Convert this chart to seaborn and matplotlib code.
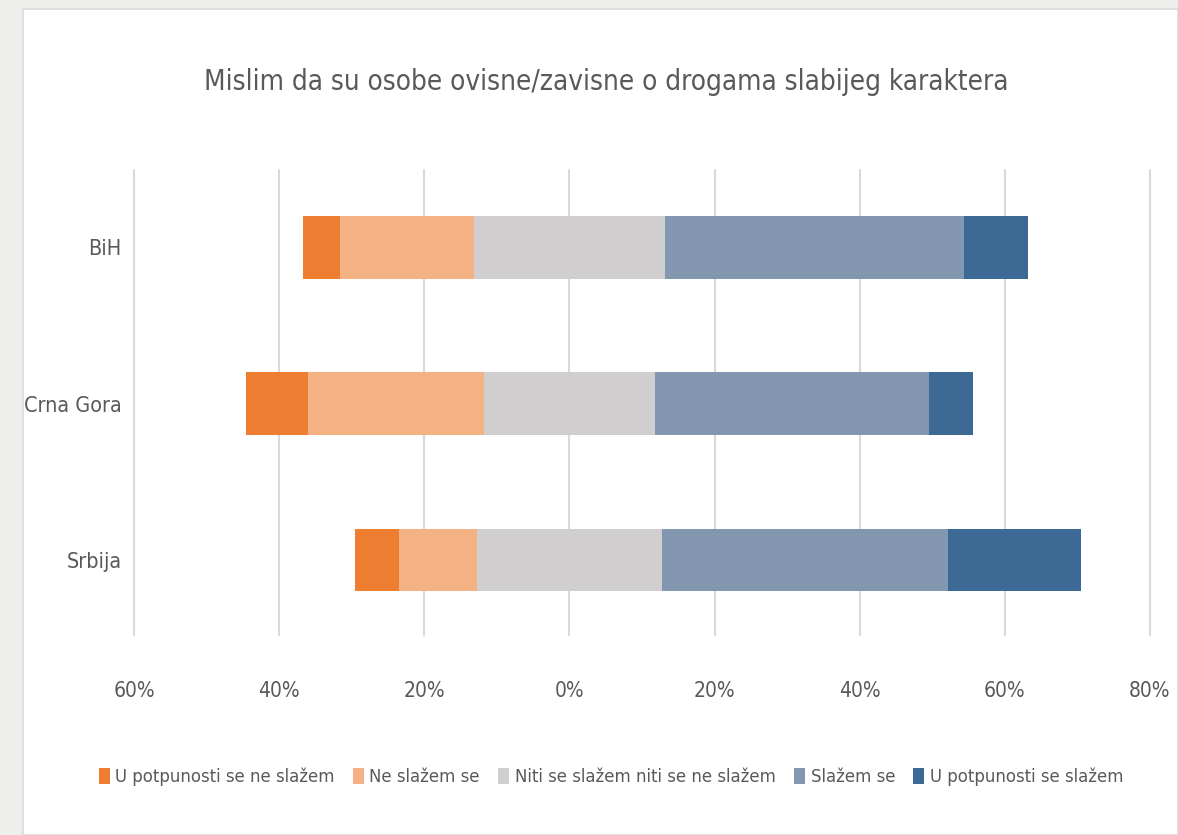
import matplotlib
matplotlib.use("Agg")
import numpy as np
import pandas as pd
import matplotlib.pyplot as plt
import seaborn as sns
from matplotlib.patches import Patch

# data (percent)
countries = ["BiH", "Crna Gora", "Srbija"]
categories = ["U potpunosti se ne slažem", "Ne slažem se",
              "Niti se slažem niti se ne slažem", "Slažem se",
              "U potpunosti se slažem"]
strongly_disagree = [5.2, 8.6, 6.0]
disagree = [18.4, 24.2, 10.8]
neutral = [26.3, 23.6, 25.4]
agree = [41.2, 37.8, 39.5]
strongly_agree = [8.9, 6.0, 18.3]
tick_values = [-60, -40, -20, 0, 20, 40, 60, 80]
tick_labels = ["60%", "40%", "20%", "0%", "20%", "40%", "60%", "80%"]

colors = ["#ED7D31", "#F4B183", "#D0CECE", "#8497B0", "#3D6A95"]
text_col = "#595959"

sns.set_theme(style="white")
plt.rcParams["font.family"] = ["DejaVu Sans"]
plt.rcParams["font.stretch"] = "condensed"

df = pd.DataFrame({
    "country": countries,
    "sd": strongly_disagree,
    "d": disagree,
    "n": neutral,
    "a": agree,
    "sa": strongly_agree,
})
half = df["n"] / 2
# cumulative extents, drawn longest first so shorter ones sit on top
layers = [
    (-(half + df["d"] + df["sd"]), colors[0]),
    (-(half + df["d"]), colors[1]),
    (-half, colors[2]),
    (half + df["a"] + df["sa"], colors[4]),
    (half + df["a"], colors[3]),
    (half, colors[2]),
]

fig = plt.figure(figsize=(11.78, 8.35), dpi=100)
fig.patch.set_facecolor("#EEEEEC")
fig.patches.append(plt.Rectangle((23 / 1178, 0), 1 - 23 / 1178, 1 - 9 / 835,
                                 transform=fig.transFigure, facecolor="white",
                                 edgecolor="#DADADA", lw=1.2, zorder=-5))

ax = fig.add_axes([134 / 1178, 1 - 635 / 835, (1150 - 134) / 1178, (635 - 170) / 835])
ax.set_facecolor("none")

# vertical gridlines behind the bars
for xv in tick_values:
    ax.axvline(xv, color="#D9D9D9", lw=1.5, zorder=0.5, clip_on=False)

for vals, c in layers:
    sns.barplot(x=vals, y=df["country"], orient="h", color=c, ax=ax,
                width=0.40, linewidth=0, saturation=1, zorder=2)

ax.set_xlim(-60, 80)
ax.set_ylim(2.48, -0.495)
ax.set_xticks(tick_values)
ax.set_xticklabels(tick_labels)
ax.set_xlabel("")
ax.set_ylabel("")
sns.despine(ax=ax, left=True, bottom=True, top=True, right=True)
ax.tick_params(axis="x", length=0, pad=33, labelsize=15, labelcolor=text_col)
ax.tick_params(axis="y", length=0, pad=9, labelsize=15.5, labelcolor=text_col)

fig.text(606 / 1178, 1 - 82 / 835,
         "Mislim da su osobe ovisne/zavisne o drogama slabijeg karaktera",
         ha="center", va="center", fontsize=20, color=text_col)

handles = [Patch(facecolor=c, edgecolor="none") for c in colors]
fig.legend(handles, categories, loc="center", bbox_to_anchor=(611 / 1178, 1 - 777 / 835),
           ncol=5, frameon=False, fontsize=13.2, labelcolor=text_col,
           handlelength=0.6, handleheight=1.0, handletextpad=0.3, columnspacing=1.0)

fig.savefig("out.png", dpi=100, facecolor=fig.get_facecolor())
